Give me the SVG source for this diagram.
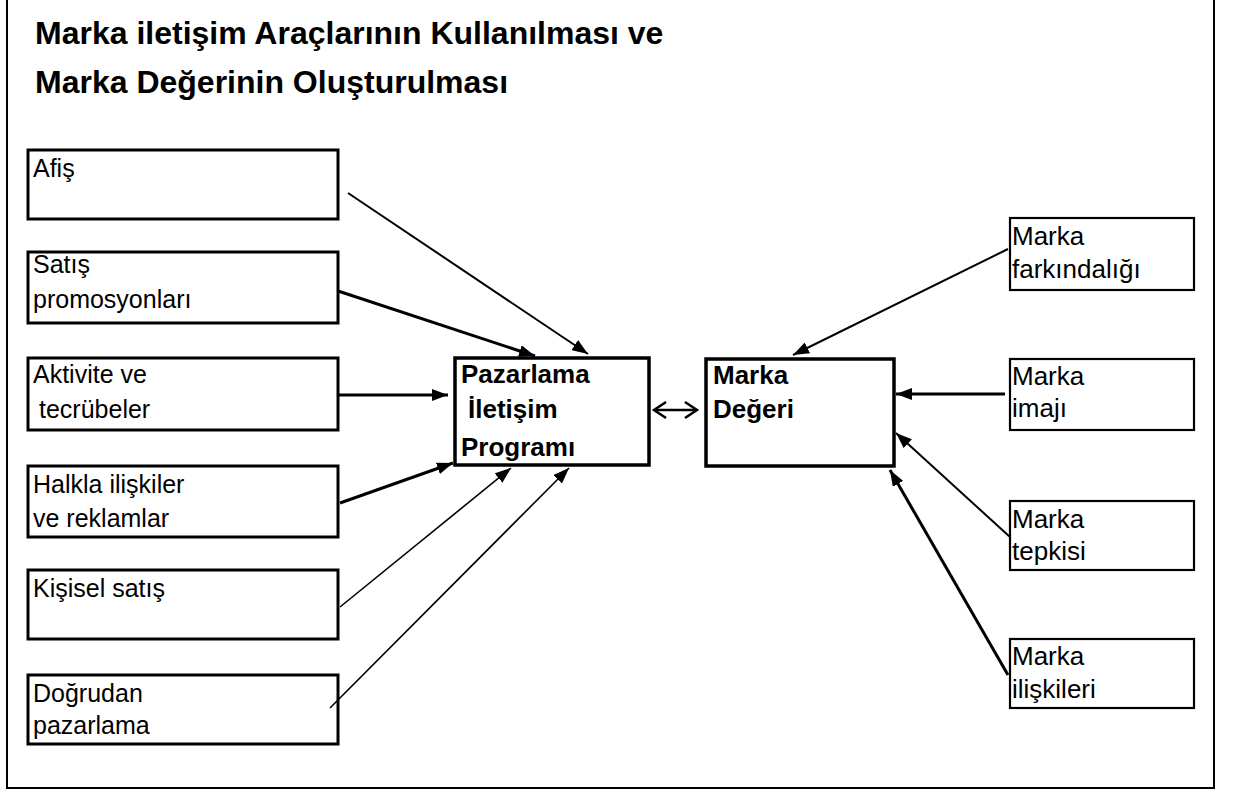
<svg xmlns="http://www.w3.org/2000/svg" width="1237" height="791" viewBox="0 0 1237 791">
  <style>
    .frame { fill: none; stroke: #000; stroke-width: 2; }
    .box { fill: #fff; stroke: #000; stroke-width: 3; }
    .rbox { fill: #fff; stroke: #000; stroke-width: 2.2; }
    .cbox { fill: #fff; stroke: #000; stroke-width: 3.5; }
    .title { font-family: "Liberation Sans", Arial, sans-serif; font-size: 32px; font-weight: bold; fill: #000; }
    .lbl { font-family: "Liberation Sans", Arial, sans-serif; font-size: 25px; fill: #000; }
    .rlbl { font-family: "Liberation Sans", Arial, sans-serif; font-size: 26px; fill: #000; }
    .blbl { font-family: "Liberation Sans", Arial, sans-serif; font-size: 26px; font-weight: bold; fill: #000; }
    .edge { fill: none; stroke: #000; }
  </style>
  <defs>
    <marker id="head" viewBox="0 0 16 12" markerWidth="16" markerHeight="12" refX="16" refY="6" orient="auto" markerUnits="userSpaceOnUse">
      <path d="M0,0 L16,6 L0,12 z" fill="#000"/>
    </marker>
  </defs>
  <rect width="1237" height="791" fill="#fff"/>

  <!-- outer frame, top edge runs off the page -->
  <rect class="frame" x="7" y="-4" width="1207" height="792"/>

  <g id="title">
    <text class="title" x="35" y="44">Marka iletişim Araçlarının Kullanılması ve</text>
    <text class="title" x="35" y="93">Marka Değerinin Oluşturulması</text>
  </g>

  <!-- communication tools -->
  <g id="afis">
    <rect class="box" x="28" y="150" width="310" height="69"/>
    <text class="lbl" x="33" y="177">Afiş</text>
  </g>
  <g id="satis-promosyonlari">
    <rect class="box" x="28" y="252" width="310" height="71"/>
    <text class="lbl" x="33" y="273">Satış</text>
    <text class="lbl" x="33" y="308">promosyonları</text>
  </g>
  <g id="aktivite">
    <rect class="box" x="28" y="358" width="310" height="72"/>
    <text class="lbl" x="33" y="383">Aktivite ve</text>
    <text class="lbl" x="39" y="418">tecrübeler</text>
  </g>
  <g id="halkla-iliskiler">
    <rect class="box" x="28" y="466" width="310" height="71"/>
    <text class="lbl" x="33" y="493">Halkla ilişkiler</text>
    <text class="lbl" x="33" y="527">ve reklamlar</text>
  </g>
  <g id="kisisel-satis">
    <rect class="box" x="28" y="570" width="310" height="69"/>
    <text class="lbl" x="33" y="597">Kişisel satış</text>
  </g>
  <g id="dogrudan-pazarlama">
    <rect class="box" x="28" y="675" width="310" height="69"/>
    <text class="lbl" x="33" y="702">Doğrudan</text>
    <text class="lbl" x="33" y="734">pazarlama</text>
  </g>

  <!-- central nodes -->
  <g id="pazarlama-iletisim-programi">
    <rect class="cbox" x="455" y="358" width="194" height="107"/>
    <text class="blbl" x="461" y="383">Pazarlama</text>
    <text class="blbl" x="468" y="418">İletişim</text>
    <text class="blbl" x="461" y="456">Programı</text>
  </g>
  <g id="marka-degeri">
    <rect class="cbox" x="706" y="359" width="188" height="107"/>
    <text class="blbl" x="713" y="384">Marka</text>
    <text class="blbl" x="713" y="418">Değeri</text>
  </g>

  <!-- brand equity components -->
  <g id="marka-farkindaligi">
    <rect class="rbox" x="1010" y="218" width="184" height="72" stroke-width="2.8"/>
    <text class="rlbl" x="1012" y="245">Marka</text>
    <text class="rlbl" x="1012" y="278">farkındalığı</text>
  </g>
  <g id="marka-imaji">
    <rect class="rbox" x="1010" y="359" width="184" height="71"/>
    <text class="rlbl" x="1012" y="385">Marka</text>
    <text class="rlbl" x="1012" y="417">imajı</text>
  </g>
  <g id="marka-tepkisi">
    <rect class="rbox" x="1010" y="501" width="184" height="69"/>
    <text class="rlbl" x="1012" y="528">Marka</text>
    <text class="rlbl" x="1012" y="560">tepkisi</text>
  </g>
  <g id="marka-iliskileri">
    <rect class="rbox" x="1010" y="639" width="184" height="69"/>
    <text class="rlbl" x="1012" y="665">Marka</text>
    <text class="rlbl" x="1012" y="698">ilişkileri</text>
  </g>

  <g id="connectors">
    <line class="edge" x1="348" y1="193" x2="588" y2="354" stroke-width="2" marker-end="url(#head)"/>
    <line class="edge" x1="338" y1="291" x2="535" y2="356" stroke-width="3" marker-end="url(#head)"/>
    <line class="edge" x1="338" y1="395" x2="448" y2="395" stroke-width="3" marker-end="url(#head)"/>
    <line class="edge" x1="340" y1="503" x2="453" y2="463" stroke-width="3" marker-end="url(#head)"/>
    <line class="edge" x1="340" y1="607" x2="511" y2="468" stroke-width="1.6" marker-end="url(#head)"/>
    <line class="edge" x1="330" y1="708" x2="569" y2="468" stroke-width="1.6" marker-end="url(#head)"/>

    <line class="edge" x1="1008" y1="249" x2="793" y2="355" stroke-width="2" marker-end="url(#head)"/>
    <line class="edge" x1="1005" y1="394" x2="896" y2="394" stroke-width="3" marker-end="url(#head)"/>
    <line class="edge" x1="1010" y1="537" x2="896" y2="433" stroke-width="2" marker-end="url(#head)"/>
    <line class="edge" x1="1008" y1="675" x2="890" y2="470" stroke-width="3" marker-end="url(#head)"/>

    <!-- two-way link between the central nodes -->
    <g stroke="#000" stroke-width="2.5" fill="none">
      <line x1="654" y1="410" x2="697" y2="410"/>
      <polyline points="666,402 654,410 666,418"/>
      <polyline points="685,402 697,410 685,418"/>
    </g>
  </g>
</svg>
